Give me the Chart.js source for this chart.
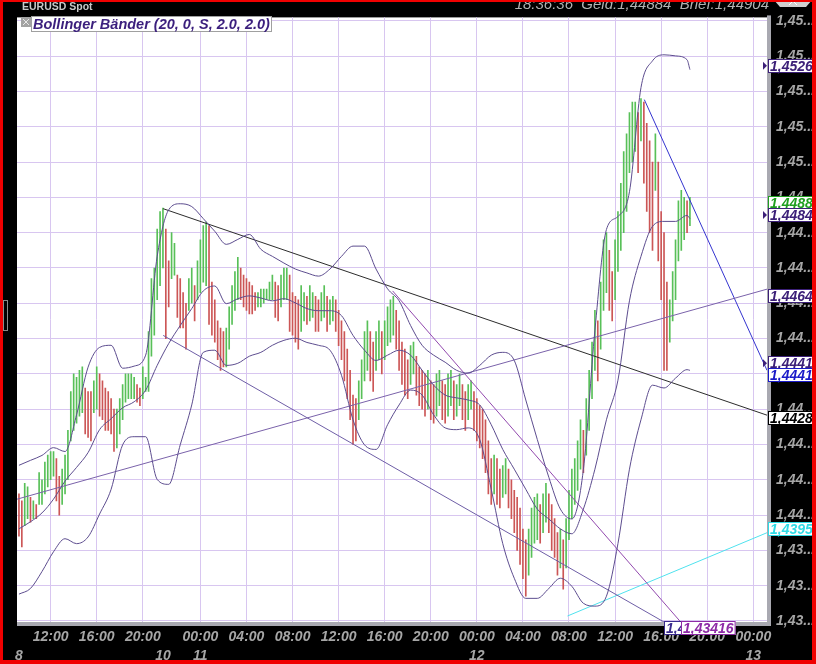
<!DOCTYPE html>
<html>
<head>
<meta charset="utf-8">
<script src="https://cdn.jsdelivr.net/npm/chart.js@4"></script>
<style>
html, body { margin: 0; padding: 0; background: #000; }
canvas { display: block; }
</style>
</head>
<body>
<canvas id="myChart" width="816" height="664"></canvas>
<script>
// hours counted from the 8th 12:00, weekend left out (8th 20:00 -> 11th 00:00 is 5 h)
const timeTicks = [0, 4, 8, 13, 17, 21, 25, 29, 33, 37, 41, 45, 49, 53, 57, 61];
const timeLabels = ['12:00', '16:00', '20:00', '00:00', '04:00', '08:00', '12:00', '16:00',
  '20:00', '00:00', '04:00', '08:00', '12:00', '16:00', '20:00', '00:00'];
const dayLabels = ['8', '10', '11', '12', '13'];
const dayTimes = [-2.75, 9.75, 13, 37, 61];
const priceTicks = [1.437, 1.438, 1.439, 1.440, 1.441, 1.442, 1.443, 1.444, 1.445,
  1.446, 1.447, 1.448, 1.449, 1.450, 1.451, 1.452, 1.453, 1.454];

// 15 minute bars, first one at 09:15 on the 8th
const barStart = -2.75;
const barStep = 0.25;
const barHigh = [
  1.4406, 1.4404, 1.4409, 1.4408, 1.4405, 1.4404, 1.4403, 1.4412, 1.4410, 1.4415,
  1.4417, 1.4418, 1.4418, 1.4416, 1.4411, 1.4413, 1.4417, 1.4424, 1.4435, 1.4440,
  1.4439, 1.4441, 1.4442, 1.4436, 1.4435, 1.4435, 1.4438, 1.4442, 1.4440, 1.4438,
  1.4436, 1.4435, 1.4433, 1.4430, 1.4430, 1.4433, 1.4437, 1.4440, 1.4440, 1.4440,
  1.4439, 1.4437, 1.4436, 1.4442, 1.4439, 1.4452, 1.4467, 1.4470, 1.4481, 1.4486,
  1.4487, 1.4481, 1.4472, 1.4480, 1.4477, 1.4468, 1.4467, 1.4463, 1.4460, 1.4467,
  1.4470, 1.4465, 1.4472, 1.4478, 1.4482, 1.4483, 1.4482, 1.4466, 1.4461, 1.4455,
  1.4453, 1.4452, 1.4453, 1.4459, 1.4465, 1.4469, 1.4473, 1.4470, 1.4468, 1.4467,
  1.4466, 1.4465, 1.4463, 1.4463, 1.4464, 1.4464, 1.4464, 1.4466, 1.4468, 1.4466,
  1.4465, 1.4468, 1.4470, 1.4470, 1.4468, 1.4463, 1.4462, 1.4461, 1.4465, 1.4463,
  1.4462, 1.4465, 1.4463, 1.4462, 1.4461, 1.4463, 1.4465, 1.4462, 1.4461, 1.4462,
  1.4461, 1.4458, 1.4455, 1.4452, 1.4447, 1.4441, 1.4434, 1.4433, 1.4438, 1.4444,
  1.4452, 1.4455, 1.4452, 1.4449, 1.4452, 1.4455, 1.4452, 1.4455, 1.4459, 1.4461,
  1.4462, 1.4458, 1.4455, 1.4449, 1.4447, 1.4444, 1.4448, 1.4449, 1.4445, 1.4442,
  1.4441, 1.4440, 1.4441, 1.4438, 1.4437, 1.4440, 1.4441, 1.4438, 1.4437, 1.4440,
  1.4441, 1.4438, 1.4437, 1.4440, 1.4437, 1.4435, 1.4437, 1.4438, 1.4435, 1.4433,
  1.4431, 1.4430, 1.4427, 1.4421, 1.4416, 1.4417, 1.4416, 1.4413, 1.4414, 1.4416,
  1.4413, 1.4410, 1.4407, 1.4405, 1.4402, 1.4396, 1.4393, 1.4396, 1.4402, 1.4405,
  1.4406, 1.4403, 1.4406, 1.4409, 1.4406, 1.4403, 1.4399, 1.4395, 1.4396, 1.4393,
  1.4399, 1.4407, 1.4413, 1.4416, 1.4421, 1.4427, 1.4424, 1.4433, 1.4441, 1.4449,
  1.4458, 1.4455, 1.4466, 1.4478, 1.4480, 1.4475, 1.4469, 1.4478, 1.4486, 1.4494,
  1.4503, 1.4508, 1.4514, 1.4517, 1.4517, 1.4514, 1.4518, 1.4517, 1.4511, 1.4506,
  1.4500, 1.4508, 1.4500, 1.4486, 1.4480, 1.4466, 1.4461, 1.4469, 1.4478, 1.4489,
  1.4492, 1.4490, 1.4489, 1.4490
];
const barLow = [
  1.4394, 1.4391, 1.4397, 1.4399, 1.4398, 1.4399, 1.4399, 1.4403, 1.4403, 1.4406,
  1.4408, 1.4410, 1.4411, 1.4404, 1.4400, 1.4403, 1.4406, 1.4410, 1.4421, 1.4424,
  1.4426, 1.4428, 1.4429, 1.4423, 1.4422, 1.4421, 1.4429, 1.4430, 1.4428, 1.4427,
  1.4424, 1.4424, 1.4423, 1.4418, 1.4419, 1.4423, 1.4427, 1.4432, 1.4433, 1.4433,
  1.4433, 1.4432, 1.4431, 1.4433, 1.4435, 1.4435, 1.4445, 1.4451, 1.4461, 1.4465,
  1.4470, 1.4450, 1.4459, 1.4467, 1.4468, 1.4456, 1.4453, 1.4453, 1.4447, 1.4458,
  1.4460, 1.4455, 1.4461, 1.4463, 1.4466, 1.4465, 1.4454, 1.4451, 1.4449, 1.4444,
  1.4441, 1.4442, 1.4442, 1.4447, 1.4454, 1.4458, 1.4461, 1.4461, 1.4459, 1.4458,
  1.4457, 1.4457, 1.4458, 1.4459, 1.4459, 1.4460, 1.4461, 1.4461, 1.4461, 1.4456,
  1.4455, 1.4459, 1.4461, 1.4461, 1.4452, 1.4451, 1.4449, 1.4447, 1.4452, 1.4455,
  1.4454, 1.4455, 1.4456, 1.4452, 1.4452, 1.4455, 1.4456, 1.4452, 1.4454, 1.4455,
  1.4452, 1.4448, 1.4444, 1.4438, 1.4433, 1.4427, 1.4420, 1.4421, 1.4427, 1.4433,
  1.4438, 1.4441, 1.4438, 1.4435, 1.4441, 1.4444, 1.4440, 1.4444, 1.4448, 1.4449,
  1.4451, 1.4447, 1.4441, 1.4437, 1.4434, 1.4433, 1.4437, 1.4440, 1.4434, 1.4431,
  1.4430, 1.4428, 1.4430, 1.4427, 1.4426, 1.4428, 1.4431, 1.4427, 1.4426, 1.4428,
  1.4431, 1.4427, 1.4428, 1.4431, 1.4427, 1.4424, 1.4427, 1.4430, 1.4424, 1.4421,
  1.4419, 1.4416, 1.4412, 1.4406, 1.4403, 1.4406, 1.4403, 1.4402, 1.4405, 1.4406,
  1.4402, 1.4399, 1.4395, 1.4390, 1.4386, 1.4382, 1.4377, 1.4383, 1.4388, 1.4392,
  1.4393, 1.4392, 1.4395, 1.4398, 1.4395, 1.4390, 1.4388, 1.4383, 1.4385, 1.4379,
  1.4385, 1.4393, 1.4399, 1.4403, 1.4407, 1.4413, 1.4412, 1.4417, 1.4424, 1.4433,
  1.4441, 1.4438, 1.4447, 1.4458, 1.4463, 1.4458, 1.4455, 1.4461, 1.4469, 1.4475,
  1.4480, 1.4486, 1.4497, 1.4500, 1.4503, 1.4497, 1.4506, 1.4494, 1.4486, 1.4480,
  1.4475, 1.4492, 1.4472, 1.4461, 1.4441, 1.4441, 1.4449, 1.4455, 1.4461, 1.4472,
  1.4475, 1.4478, 1.4480, 1.4482
];
// g = up bar, r = down bar
const barDir =
  'rrggrgrggg' + 'gggrrggggg' + 'gggrrrggrr' + 'rrrrgggggg' + 'grrggggggg' +
  'grrggrrrrg' + 'grggggrrrr' + 'rrgggggrrr' + 'rrrggggggr' + 'rgggrrrrgg' +
  'rggrrggrgg' + 'rrrrrrrrgg' + 'ggrrggrggg' + 'grrrrrggrr' + 'rrgrrggrrg' +
  'grggrrggrr' + 'rrrrrgrrgg' + 'rrrrrrrggg' + 'grggrrrrgr' + 'ggggggrggg' +
  'grgggrrggg' + 'gggggrgrrr' + 'rgrrrrgggg' + 'ggrg';

// Bollinger bands read hourly (last point = last bar)
const bandUpper = [
  1.44141, 1.44155, 1.44169, 1.44191, 1.44180, 1.44284, 1.44419, 1.44475, 1.44481, 1.44416,
  1.44422, 1.44453, 1.44733, 1.44865, 1.44882, 1.44874, 1.44840, 1.44804, 1.44767, 1.44781,
  1.44795, 1.44753, 1.44733, 1.44714, 1.44697, 1.44686, 1.44677, 1.44697, 1.44733, 1.44762,
  1.44762, 1.44697, 1.44641, 1.44607, 1.44537, 1.44481, 1.44453, 1.44433, 1.44410, 1.44402,
  1.44424, 1.44453, 1.44461, 1.44438, 1.44326, 1.44214, 1.44107, 1.44017, 1.43989, 1.44129,
  1.44523, 1.44809, 1.44846, 1.44916, 1.45211, 1.45287, 1.45304, 1.45301, 1.45290, 1.45262
];
const bandMiddle = [
  1.43961, 1.43981, 1.44006, 1.44045, 1.44096, 1.44135, 1.44177, 1.44242, 1.44273, 1.44304,
  1.44321, 1.44354, 1.44424, 1.44486, 1.44537, 1.44585, 1.44635, 1.44649, 1.44599, 1.44613,
  1.44621, 1.44615, 1.44607, 1.44613, 1.44601, 1.44585, 1.44579, 1.44579, 1.44565, 1.44509,
  1.44467, 1.44438, 1.44453, 1.44467, 1.44453, 1.44410, 1.44368, 1.44340, 1.44332, 1.44326,
  1.44312, 1.44256, 1.44186, 1.44130, 1.44073, 1.44017, 1.43989, 1.43961, 1.43947, 1.44017,
  1.44130, 1.44270, 1.44382, 1.44607, 1.44733, 1.44818, 1.44832, 1.44832, 1.44849, 1.44840
];
const bandLower = [
  1.43776, 1.43792, 1.43840, 1.43896, 1.43933, 1.43919, 1.43938, 1.44003, 1.44073, 1.44199,
  1.44222, 1.44222, 1.44101, 1.44087, 1.44199, 1.44312, 1.44461, 1.44467, 1.44424, 1.44430,
  1.44450, 1.44461, 1.44481, 1.44495, 1.44501, 1.44489, 1.44481, 1.44467, 1.44396, 1.44270,
  1.44199, 1.44186, 1.44256, 1.44312, 1.44354, 1.44340, 1.44284, 1.44247, 1.44242, 1.44247,
  1.44214, 1.44073, 1.43919, 1.43821, 1.43764, 1.43764, 1.43792, 1.43821, 1.43798, 1.43750,
  1.43742, 1.43770, 1.43919, 1.44130, 1.44270, 1.44368, 1.44360, 1.44388, 1.44412, 1.44410
];
const bandTimes = bandUpper.map((_, i) => Math.min(barStart + i, 55.5));

// hand drawn trend lines: [time, price] end points
const blackLine = [[9.77, 1.44868], [62.19, 1.44283]];
const channelLine = [[9.77, 1.44509], [62.19, 1.43530]];
const steepLine = [[29.69, 1.44635], [62.19, 1.43416]];
const riseLine = [[-2.92, 1.44045], [62.19, 1.44640]];
const blueLine = [[51.54, 1.45177], [62.19, 1.44410]];
const cyanLine = [[44.87, 1.43714], [62.19, 1.43950]];

const FONT = '"Liberation Sans", Arial, sans-serif';
const GRID = 'rgb(216,198,240)';
const TICK = '#a6a6a6';
const BAND = '#5d4d8f';

const bars = barHigh.map((h, i) => ({ x: barStart + i * barStep, y: [barLow[i], h] }));
const band = arr => arr.map((v, i) => ({ x: bandTimes[i], y: v }));
const seg = pts => pts.map(p => ({ x: p[0], y: p[1] }));

function line(data, color, extra) {
  return Object.assign({
    type: 'line', data, borderColor: color, borderWidth: 1,
    pointRadius: 0, fill: false, tension: 0, order: 1
  }, extra || {});
}

function tag(ctx, text, x, cy, color, arrow) {
  ctx.font = 'bold italic 14px ' + FONT;
  const w = ctx.measureText(text).width + 4;
  ctx.fillStyle = '#fff';
  ctx.fillRect(x, Math.round(cy) - 7, w, 14);
  ctx.strokeStyle = color;
  ctx.lineWidth = 1;
  ctx.strokeRect(x + 0.5, Math.round(cy) - 6.5, w - 1, 13);
  ctx.fillStyle = color;
  ctx.textAlign = 'left';
  ctx.textBaseline = 'middle';
  ctx.fillText(text, x + 2, Math.round(cy) + 1);
  if (arrow) {
    ctx.beginPath();
    ctx.moveTo(x - 5, cy - 4);
    ctx.lineTo(x - 1, cy);
    ctx.lineTo(x - 5, cy + 4);
    ctx.closePath();
    ctx.fill();
  }
}

const frame = {
  id: 'frame',
  beforeDraw(chart) {
    const { ctx, chartArea: a } = chart;
    ctx.save();
    ctx.fillStyle = '#000';
    ctx.fillRect(0, 0, chart.width, chart.height);
    ctx.fillStyle = '#fff';
    ctx.fillRect(a.left, a.top, a.right - a.left, a.bottom - a.top);
    ctx.restore();
  },
  afterDraw(chart) {
    const { ctx, chartArea: a } = chart;
    const xs = chart.scales.x, ys = chart.scales.y;
    ctx.save();

    // grey frame right and bottom of the plot
    ctx.fillStyle = '#a9a9b1';
    ctx.fillRect(a.right, a.top - 2, 4, a.bottom - a.top + 6);
    ctx.fillRect(a.left, a.bottom, a.right - a.left + 4, 4);

    // day numbers under the hours
    ctx.font = 'bold italic 14px ' + FONT;
    ctx.fillStyle = TICK;
    ctx.textAlign = 'center';
    ctx.textBaseline = 'middle';
    dayLabels.forEach((d, i) => ctx.fillText(d, xs.getPixelForValue(dayTimes[i]), 656));

    // header
    ctx.textAlign = 'left';
    ctx.textBaseline = 'alphabetic';
    ctx.font = 'bold 10.5px ' + FONT;
    ctx.fillStyle = '#c8c8c8';
    ctx.fillText('EURUSD Spot', 22, 10);
    ctx.font = 'italic 15px ' + FONT;
    ctx.fillStyle = '#b2b2b2';
    ctx.textAlign = 'right';
    ctx.fillText('18:36:36  Geld:1,44884  Brief:1,44904', 769, 9);
    ctx.fillStyle = '#cfcfcf';
    ctx.beginPath();
    ctx.moveTo(774, 0); ctx.lineTo(812, 0); ctx.lineTo(806, 7); ctx.lineTo(780, 7);
    ctx.closePath(); ctx.fill();
    ctx.strokeStyle = '#fff';
    ctx.beginPath(); ctx.moveTo(789, 5); ctx.lineTo(793, 1); ctx.lineTo(797, 5); ctx.stroke();

    // indicator legend
    ctx.fillStyle = '#a3a3a3';
    ctx.fillRect(21, 17, 10, 10);
    ctx.strokeStyle = '#e8e8e8';
    ctx.beginPath();
    ctx.moveTo(23, 19); ctx.lineTo(29, 25); ctx.moveTo(29, 19); ctx.lineTo(23, 25);
    ctx.stroke();
    ctx.fillStyle = '#fff';
    ctx.fillRect(31, 17, 241, 15);
    ctx.strokeStyle = '#a0a0a0';
    ctx.strokeRect(31.5, 16.5, 240, 15);
    ctx.font = 'bold italic 14.5px ' + FONT;
    ctx.fillStyle = '#3b1f7d';
    ctx.textAlign = 'left';
    ctx.fillText('Bollinger Bänder (20, 0, S, 2.0, 2.0)', 33, 29);

    // value tags on the price axis
    const tags = [
      { v: bandUpper[bandUpper.length - 1], c: '#3c2078', arrow: true, dy: -4 },
      { v: barHigh[barHigh.length - 1] - 0.0002, c: '#1f9f1f', dy: -1 },
      { v: bandMiddle[bandMiddle.length - 1], c: '#3c2078', arrow: true, dy: -3.5 },
      { v: riseLine[1][1], c: '#3c2078', dy: 7 },
      { v: bandLower[bandLower.length - 1], c: '#3c2078', arrow: true, dy: -7 },
      { v: blueLine[1][1], c: '#1a1ac8', dy: 5 },
      { v: blackLine[1][1], c: '#000000', dy: 3 },
      { v: cyanLine[1][1], c: '#2fdbe6', dy: -4 }
    ];
    tags.forEach(t => tag(ctx, t.v.toFixed(4).replace('.', ','), a.right + 1,
      ys.getPixelForValue(t.v) + t.dy, t.c, t.arrow));

    // lines leaving through the bottom get their tag on the lower edge
    const exitX = l => {
      const [p, q] = l;
      const tt = p[0] + (ys.min - p[1]) * (q[0] - p[0]) / (q[1] - p[1]);
      return xs.getPixelForValue(tt);
    };
    tag(ctx, channelLine[1][1].toFixed(4).replace('.', ','), Math.round(exitX(channelLine)), a.bottom + 6, '#3a2a8e');
    tag(ctx, steepLine[1][1].toFixed(5).replace('.', ','), Math.round(exitX(steepLine)), a.bottom + 6, '#8d2aa6');

    // small tab on the left edge
    ctx.strokeStyle = '#8a8a8a';
    ctx.strokeRect(3.5, 300.5, 4, 30);

    // red window frame
    ctx.fillStyle = '#f00000';
    ctx.fillRect(0, 0, chart.width, 2);
    ctx.fillRect(0, 0, 3, chart.height);
    ctx.fillRect(chart.width - 4, 0, 4, chart.height);
    ctx.fillRect(0, chart.height - 4, chart.width, 4);
    ctx.restore();
  }
};

const config = {
  type: 'bar',
  data: {
    datasets: [
      {
        type: 'bar',
        data: bars,
        backgroundColor: barDir.split('').map(c => c === 'g' ? '#58c058' : '#cc5656'),
        borderWidth: 0,
        barThickness: 1,
        order: 5
      },
      line(band(bandUpper), BAND, { cubicInterpolationMode: 'monotone' }),
      line(band(bandMiddle), BAND, { cubicInterpolationMode: 'monotone' }),
      line(band(bandLower), BAND, { cubicInterpolationMode: 'monotone' }),
      line(seg(riseLine), '#7a62aa'),
      line(seg(channelLine), '#6e5ea6'),
      line(seg(steepLine), '#9249ae'),
      line(seg(blackLine), '#2c2c2c'),
      line(seg(blueLine), '#3434cf'),
      line(seg(cyanLine), '#4fe2ee')
    ]
  },
  options: {
    responsive: false,
    animation: false,
    devicePixelRatio: 1,
    layout: { padding: { left: 17, top: 14, right: 0, bottom: 0 } },
    plugins: { legend: { display: false }, tooltip: { enabled: false } },
    scales: {
      x: {
        type: 'linear',
        offset: false,
        min: -2.92,
        max: 62.19,
        grid: { color: GRID, drawTicks: false, offset: false },
        border: { display: false },
        afterBuildTicks: s => { s.ticks = timeTicks.map(v => ({ value: v })); },
        afterFit: s => { s.height = 42; },
        ticks: {
          autoSkip: false,
          maxRotation: 0,
          padding: 7,
          color: TICK,
          font: { family: FONT, size: 14, style: 'italic', weight: 'bold' },
          callback: (v, i) => timeLabels[i]
        }
      },
      y: {
        type: 'linear',
        position: 'right',
        min: 1.43697,
        max: 1.45410,
        grid: { color: GRID, drawTicks: false },
        border: { display: false },
        afterBuildTicks: s => { s.ticks = priceTicks.map(v => ({ value: v })); },
        afterFit: s => { s.width = 49; },
        ticks: {
          autoSkip: false,
          padding: 9,
          color: TICK,
          font: { family: FONT, size: 14, style: 'italic', weight: 'bold' },
          callback: v => v.toFixed(3).replace('.', ',').slice(0, 4) + '...'
        }
      }
    }
  },
  plugins: [frame]
};

new Chart(document.getElementById('myChart'), config);
</script>
</body>
</html>
